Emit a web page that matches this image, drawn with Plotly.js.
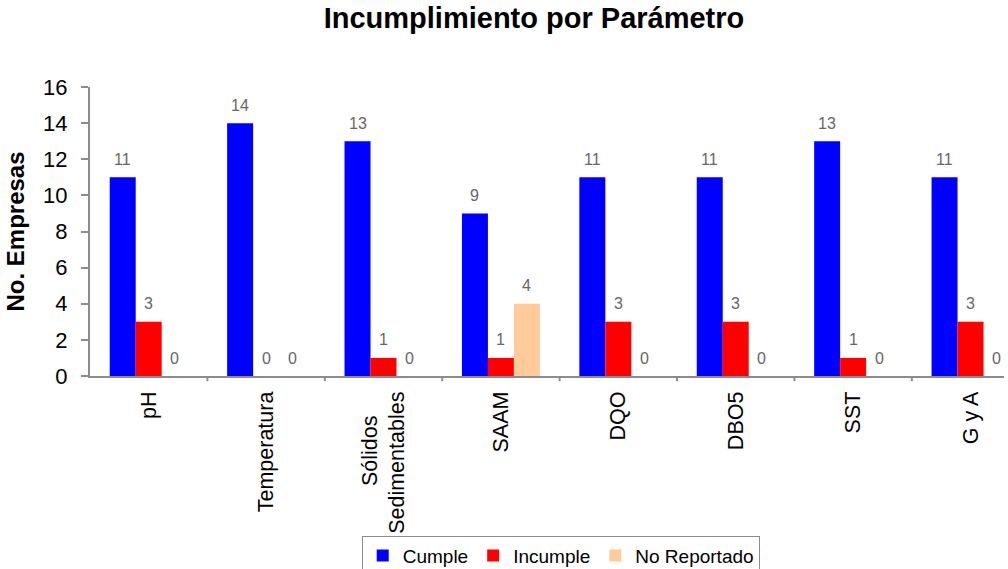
<!DOCTYPE html>
<html>
<head>
<meta charset="utf-8">
<script src="https://cdn.plot.ly/plotly-3.0.1.min.js"></script>
<style>html,body{margin:0;padding:0;background:#fff;}#chart{width:1008px;height:569px;}</style>
</head>
<body>
<div id="chart"></div>
<script>
const categories = ["pH", "Temperatura", "Sólidos\u2007\u2007<br>Sedimentables", "SAAM", "DQO", "DBO5", "SST", "G y A"];
const cumple = [11, 14, 13, 9, 11, 11, 13, 11];
const incumple = [3, 0, 1, 1, 3, 3, 1, 3];
const noReportado = [0, 0, 0, 4, 0, 0, 0, 0];
const seriesNames = ["Cumple", "Incumple", "No Reportado"];
const seriesColors = ["#0000FF", "#FF0000", "#FFCC99"];

const BARGAP = 0.336;
const allSeries = [cumple, incumple, noReportado];
const idx = categories.map((_, i) => i);

const traces = allSeries.map((vals, s) => ({
  type: "bar",
  x: idx,
  y: vals,
  name: seriesNames[s],
  marker: { color: seriesColors[s], line: { width: 0 } },
  hoverinfo: "none"
}));

const barW = (1 - BARGAP) / allSeries.length;
const annotations = [];
allSeries.forEach((vals, s) => {
  vals.forEach((v, j) => {
    annotations.push({
      x: j + (s - 1) * barW,
      y: v,
      xref: "x", yref: "y",
      text: String(v),
      showarrow: false,
      yanchor: "middle",
      yshift: 18,
      font: { family: "Arial, Liberation Sans, sans-serif", size: 16, color: "#666666" }
    });
  });
});

const layout = {
  width: 1008,
  height: 569,
  paper_bgcolor: "#ffffff",
  plot_bgcolor: "#ffffff",
  margin: { l: 90, r: 4, t: 87, b: 193, autoexpand: false },
  barmode: "group",
  bargap: BARGAP,
  bargroupgap: 0,
  font: { family: "Arial, Liberation Sans, sans-serif", color: "#000" },
  title: {
    text: "<b>Incumplimiento por Parámetro</b>",
    font: { family: "Arial, Liberation Sans, sans-serif", size: 29, color: "#000" },
    x: 534 / 1008, xref: "container", xanchor: "center",
    y: 1 - 18 / 569, yref: "container", yanchor: "middle"
  },
  xaxis: {
    type: "linear",
    range: [-0.5, 7.285],
    tickmode: "array",
    tickvals: idx,
    ticktext: categories,
    tickangle: -90,
    ticks: "",
    ticklabelstandoff: 5,
    showline: true,
    linecolor: "#8c8c8c",
    linewidth: 2,
    showgrid: false,
    zeroline: false,
    tickfont: { size: 21.5, color: "#000" },
    automargin: false
  },
  yaxis: {
    range: [0, 16],
    dtick: 2,
    ticks: "outside",
    ticklen: 7,
    tickcolor: "#8c8c8c",
    tickwidth: 2,
    showline: true,
    linecolor: "#8c8c8c",
    linewidth: 2,
    showgrid: false,
    zeroline: false,
    tickfont: { size: 22, color: "#000" },
    ticklabelstandoff: 9,
    automargin: false,
    title: {
      text: "<b>No. Empresas</b>",
      font: { size: 24, color: "#000" },
      standoff: 12
    }
  },
  shapes: idx.slice(1).map(j => ({
    type: "line", xref: "x", yref: "paper",
    x0: j - 0.5, x1: j - 0.5, y0: 0, y1: -0.018,
    line: { color: "#8c8c8c", width: 2 }
  })),
  annotations: annotations,
  showlegend: true,
  legend: {
    orientation: "h",
    x: 0.515, xanchor: "center",
    y: -0.552, yanchor: "top",
    bgcolor: "#ffffff",
    bordercolor: "#8c8c8c",
    borderwidth: 1,
    font: { size: 19, color: "#000" },
    itemwidth: 30,
    tracegroupgap: 0
  }
};

Plotly.newPlot("chart", traces, layout, { displayModeBar: false, staticPlot: true });
</script>
</body>
</html>
